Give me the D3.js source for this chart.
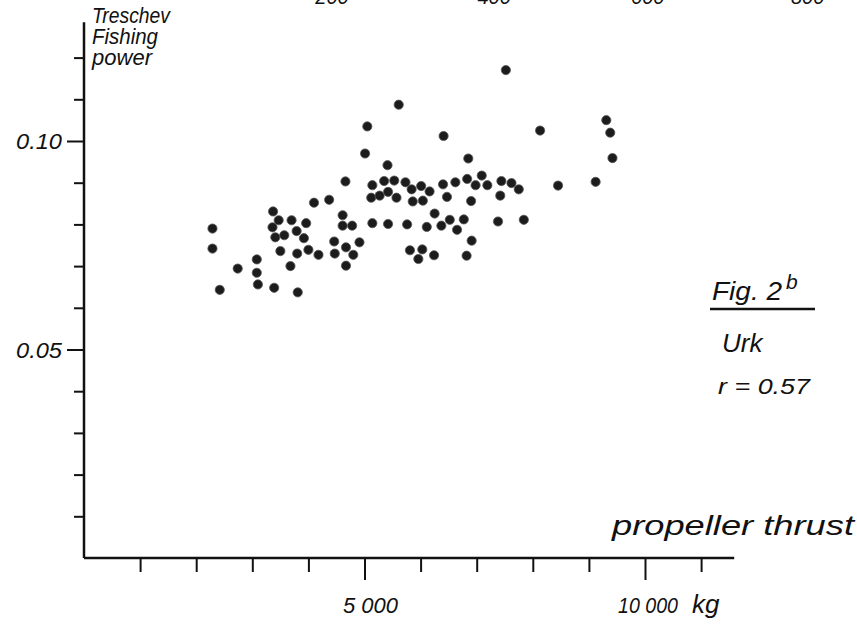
<!DOCTYPE html>
<html lang="en">
<head>
    <meta charset="UTF-8">
    <title>Fishing power vs propeller thrust</title>
    <script src="https://cdn.jsdelivr.net/npm/d3@7/dist/d3.min.js"></script>
    <style>
        body { margin: 0; background: #fff; }
        text {
            font-family: "Liberation Sans", Arial, sans-serif;
            font-style: italic;
            fill: #111;
        }
        .axis path, .axis line {
            stroke: #111;
            stroke-width: 2px;
        }
        .dot {
            fill: #1c1c1c;
            stroke: #555;
            stroke-width: 0.8px;
        }
    </style>
</head>
<body>
<script>
    // propeller thrust (kg)
    var thrust = [
        2290, 2290, 2420, 2740, 3080, 3080, 3100, 3390, 3810, 3370,
        3470, 3360, 3410, 3570, 3700, 3790, 3960, 3920, 3500, 3800,
        4000, 4180, 3680, 4100, 4370, 4460, 4470, 4660, 4610, 4610,
        4780, 4670, 4800, 4670, 4910, 5010, 5050, 5610, 5410, 5140,
        5350, 5530, 5730, 5840, 6010, 6160, 5120, 5270, 5420, 5570,
        5860, 6040, 6250, 5140, 5420, 5760, 6110, 5810, 6030, 5960,
        6240, 6410, 6850, 6400, 6620, 6830, 6980, 7090, 7190, 6470,
        6900, 6370, 6520, 6770, 6650, 6910, 6820, 7520, 8130, 9310,
        9380, 9420, 7440, 7620, 7750, 7420, 8450, 9120, 7380, 7840
    ];
    // Treschev fishing power
    var power = [
        0.0790, 0.0742, 0.0643, 0.0694, 0.0716, 0.0684, 0.0656, 0.0648, 0.0637, 0.0831,
        0.0810, 0.0793, 0.0769, 0.0774, 0.0810, 0.0784, 0.0803, 0.0767, 0.0736, 0.0730,
        0.0739, 0.0727, 0.0700, 0.0852, 0.0859, 0.0759, 0.0730, 0.0903, 0.0822, 0.0797,
        0.0797, 0.0745, 0.0727, 0.0701, 0.0757, 0.0970, 0.1035, 0.1087, 0.0942, 0.0894,
        0.0904, 0.0905, 0.0901, 0.0884, 0.0892, 0.0879, 0.0864, 0.0869, 0.0878, 0.0864,
        0.0855, 0.0857, 0.0826, 0.0803, 0.0801, 0.0800, 0.0794, 0.0738, 0.0740, 0.0717,
        0.0726, 0.1012, 0.0958, 0.0896, 0.0901, 0.0909, 0.0894, 0.0917, 0.0894, 0.0866,
        0.0856, 0.0797, 0.0811, 0.0812, 0.0787, 0.0761, 0.0725, 0.1170, 0.1025, 0.1050,
        0.1020, 0.0959, 0.0904, 0.0899, 0.0884, 0.0869, 0.0893, 0.0902, 0.0807, 0.0811
    ];

    var xMinorTicks = [1000, 2000, 3000, 4000, 6000, 7000, 8000, 9000, 11000];
    var xMajorTicks = [5000, 10000];
    var yMinorTicks = [0.01, 0.02, 0.03, 0.04, 0.06, 0.07, 0.08, 0.09, 0.11, 0.12];
    var yMajorTicks = [0.05, 0.10];
    var xAxisEnd = 11590;
    var yAxisEnd = 0.1285;
    // cut-off labels from the figure above (x position in kg units)
    var topLabels = ["200", "400", "600", "800"];
    var topLabelPos = [4420, 7310, 10050, 12900];

    var width = 857, height = 625;

    var x = d3.scaleLinear().domain([0, 10000]).range([84, 645]);
    var y = d3.scaleLinear().domain([0, 0.1]).range([558, 141]);

    var svg = d3.select("body").append("svg")
        .attr("width", width)
        .attr("height", height);

    // axis lines
    svg.append("line")
        .attr("x1", x(0)).attr("x2", x(0))
        .attr("y1", y(0)).attr("y2", y(yAxisEnd))
        .style("stroke", "#111").style("stroke-width", 2.5);
    svg.append("line")
        .attr("x1", x(0)).attr("x2", x(xAxisEnd))
        .attr("y1", y(0)).attr("y2", y(0))
        .style("stroke", "#111").style("stroke-width", 2.5);

    // x ticks
    svg.append("g").attr("class", "axis")
        .attr("transform", "translate(0," + y(0) + ")")
        .call(d3.axisBottom(x).tickValues(xMinorTicks).tickSize(14).tickFormat(""))
        .select(".domain").remove();
    svg.append("g").attr("class", "axis")
        .attr("transform", "translate(0," + y(0) + ")")
        .call(d3.axisBottom(x).tickValues(xMajorTicks).tickSize(22).tickFormat(""))
        .select(".domain").remove();

    // y ticks
    svg.append("g").attr("class", "axis")
        .attr("transform", "translate(" + x(0) + ",0)")
        .call(d3.axisLeft(y).tickValues(yMinorTicks).tickSize(10).tickFormat(""))
        .select(".domain").remove();
    svg.append("g").attr("class", "axis")
        .attr("transform", "translate(" + x(0) + ",0)")
        .call(d3.axisLeft(y).tickValues(yMajorTicks).tickSize(17).tickFormat(""))
        .select(".domain").remove();

    // y tick labels
    svg.selectAll(".ylab")
        .data(yMajorTicks)
        .enter().append("text")
        .attr("x", 16)
        .attr("y", function(d) { return y(d) + 8; })
        .attr("textLength", 46)
        .attr("lengthAdjust", "spacingAndGlyphs")
        .style("font-size", "22px")
        .text(function(d) { return d.toFixed(2); });

    // x tick labels
    svg.append("text")
        .attr("x", 343).attr("y", 613)
        .attr("textLength", 55)
        .attr("lengthAdjust", "spacingAndGlyphs")
        .style("font-size", "22px")
        .text("5 000");
    svg.append("text")
        .attr("x", 618).attr("y", 613)
        .attr("textLength", 60)
        .attr("lengthAdjust", "spacingAndGlyphs")
        .style("font-size", "22px")
        .text("10 000");
    svg.append("text")
        .attr("x", 692).attr("y", 613)
        .style("font-size", "26px")
        .text("kg");

    // axis titles
    svg.append("text")
        .attr("x", 612).attr("y", 535)
        .attr("textLength", 242)
        .attr("lengthAdjust", "spacingAndGlyphs")
        .style("font-size", "27px")
        .text("propeller thrust");

    var titleLines = ["Treschev", "Fishing", "power"];
    var titleWidths = [78, 66, 60];
    titleLines.forEach(function(t, i) {
        svg.append("text")
            .attr("x", 92).attr("y", 23 + i * 21)
            .attr("textLength", titleWidths[i])
            .attr("lengthAdjust", "spacingAndGlyphs")
            .style("font-size", "22px")
            .text(t);
    });

    // figure caption
    svg.append("text")
        .attr("x", 712).attr("y", 300)
        .attr("textLength", 70)
        .attr("lengthAdjust", "spacingAndGlyphs")
        .style("font-size", "26px")
        .text("Fig. 2");
    svg.append("text")
        .attr("x", 786).attr("y", 289)
        .style("font-size", "21px")
        .text("b");
    svg.append("line")
        .attr("x1", 710).attr("x2", 815)
        .attr("y1", 309).attr("y2", 309)
        .style("stroke", "#111").style("stroke-width", 2.5);
    svg.append("text")
        .attr("x", 722).attr("y", 352)
        .style("font-size", "26px")
        .text("Urk");
    svg.append("text")
        .attr("x", 718).attr("y", 394)
        .attr("textLength", 92)
        .attr("lengthAdjust", "spacingAndGlyphs")
        .style("font-size", "22px")
        .text("r = 0.57");

    // partially visible labels at the top edge
    svg.selectAll(".toplab")
        .data(topLabels)
        .enter().append("text")
        .attr("x", function(d, i) { return x(topLabelPos[i]); })
        .attr("y", 4)
        .style("text-anchor", "middle")
        .style("font-size", "20px")
        .text(function(d) { return d; });

    // scatter points
    var points = thrust.map(function(d, i) { return {t: d, p: power[i]}; });
    svg.selectAll(".dot")
        .data(points)
        .enter().append("circle")
        .attr("class", "dot")
        .attr("cx", function(d) { return x(d.t); })
        .attr("cy", function(d) { return y(d.p); })
        .attr("r", 4.6);
</script>
</body>
</html>
